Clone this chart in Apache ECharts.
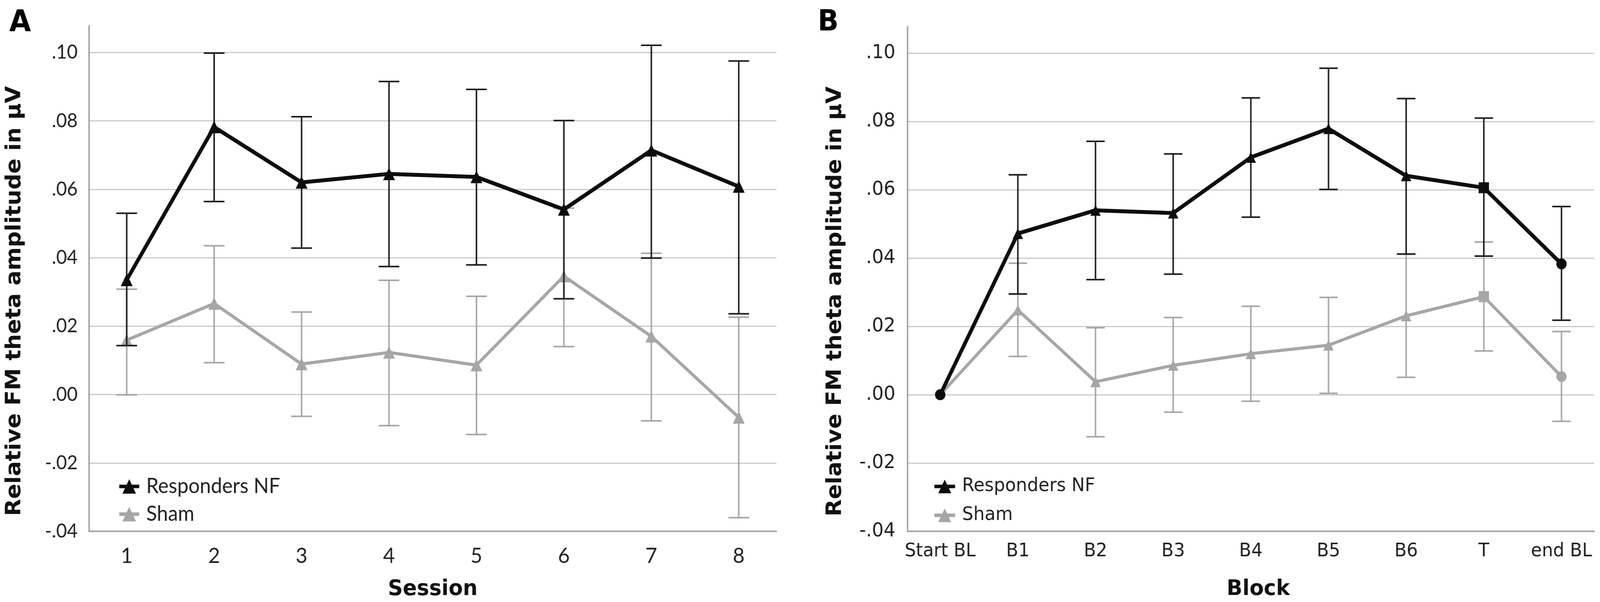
<!DOCTYPE html>
<html><head><meta charset="utf-8">
<script src="https://cdn.jsdelivr.net/npm/echarts@6/dist/echarts.min.js"></script>
<style>
html,body{margin:0;padding:0;background:#fff;overflow:hidden}
#c{width:4328px;height:1542px;transform-origin:0 0}
</style>
</head><body><div id="c"></div>
<script>
// ---------- Data ----------
const sessionCats = ['1', '2', '3', '4', '5', '6', '7', '8'];
const respA    = [0.0335, 0.0782, 0.0620, 0.0645, 0.0636, 0.0541, 0.0714, 0.0608];
const respAHi  = [0.0530, 0.0998, 0.0812, 0.0915, 0.0892, 0.0801, 0.1021, 0.0975];
const respALo  = [0.0143, 0.0564, 0.0428, 0.0374, 0.0379, 0.0280, 0.0399, 0.0236];
const shamA    = [0.0159, 0.0266, 0.0089, 0.0123, 0.0086, 0.0346, 0.0170, -0.0067];
const shamAHi  = [0.0308, 0.0435, 0.0241, 0.0334, 0.0287, 0.0545, 0.0413, 0.0226];
const shamALo  = [-0.0001, 0.0093, -0.0064, -0.0091, -0.0117, 0.0140, -0.0077, -0.0360];

const blockCats = ['Start BL', 'B1', 'B2', 'B3', 'B4', 'B5', 'B6', 'T', 'end BL'];
const blockSymbols = ['circle', 'triangle', 'triangle', 'triangle', 'triangle', 'triangle', 'triangle', 'rect', 'circle'];
const respB    = [0, 0.0472, 0.0540, 0.0532, 0.0695, 0.0779, 0.0641, 0.0606, 0.0383];
const respBHi  = [null, 0.0644, 0.0742, 0.0705, 0.0869, 0.0956, 0.0867, 0.0810, 0.0551];
const respBLo  = [null, 0.0295, 0.0337, 0.0353, 0.0520, 0.0601, 0.0412, 0.0406, 0.0218];
const shamB    = [0, 0.0248, 0.0038, 0.0086, 0.0120, 0.0145, 0.0231, 0.0287, 0.0053];
const shamBHi  = [null, 0.0385, 0.0196, 0.0226, 0.0259, 0.0285, 0.0412, 0.0447, 0.0185];
const shamBLo  = [null, 0.0112, -0.0123, -0.0051, -0.0019, 0.0004, 0.0051, 0.0128, -0.0078];

const yTicks = [-0.04, -0.02, 0.00, 0.02, 0.04, 0.06, 0.08, 0.10];
const seriesNames = ['Responders NF', 'Sham'];
const yTitle = 'Relative FM theta amplitude in µV';

// ---------- Fit the 4328px-wide figure into the browser window ----------
const W = 4328, H = 1542;
const el = document.getElementById('c');
const sx = Math.min(1, window.innerWidth / W), sy = Math.min(1, window.innerHeight / H);
el.style.transform = 'scale(' + sx + ',' + sy + ')';

// ---------- Helpers ----------
const BLACK = '#0d0d0d', GRAY = '#a6a6a6', GRID = '#cacaca', AXIS = '#a3a3a3', TEXT = '#222';
const fontA = 'Lato, "Noto Sans", sans-serif';
const fontB = '"DejaVu Sans", Verdana, sans-serif';

function pts(vals, syms) {
  return vals.map((v, i) => { const d = { value: [i, v] }; if (syms) d.symbol = syms[i]; return d; });
}
function errData(lo, hi) {
  const out = [];
  lo.forEach((l, i) => { if (l != null && hi[i] != null) out.push([i, l, hi[i]]); });
  return out;
}
function errSeries(ai, lo, hi, color, half, z) {
  return {
    type: 'custom', xAxisIndex: ai, yAxisIndex: ai, z: z, silent: true,
    data: errData(lo, hi), encode: { x: 0, y: [1, 2] },
    renderItem: function (params, api) {
      const x = api.value(0);
      const a = api.coord([x, api.value(1)]);
      const b = api.coord([x, api.value(2)]);
      const st = { stroke: color, lineWidth: 4 };
      return { type: 'group', children: [
        { type: 'line', shape: { x1: a[0], y1: a[1], x2: b[0], y2: b[1] }, style: st },
        { type: 'line', shape: { x1: a[0] - half, y1: a[1], x2: a[0] + half, y2: a[1] }, style: st },
        { type: 'line', shape: { x1: b[0] - half, y1: b[1], x2: b[0] + half, y2: b[1] }, style: st }
      ]};
    }
  };
}
function yFmt(v) {
  const isTick = yTicks.some(t => Math.abs(t - v) < 1e-9);
  if (!isTick) return '';
  return (Math.round(v * 100) / 100).toFixed(2).replace('0.', '.');
}
function yAxisDef(gi, font, size, margin) {
  const colors = yTicks.map(() => GRID); colors.push('rgba(0,0,0,0)');
  return {
    type: 'value', gridIndex: gi, min: yTicks[0], max: 0.1078, interval: 0.02,
    axisLine: { show: true, onZero: false, lineStyle: { color: AXIS, width: 4 } },
    axisTick: { show: false },
    splitLine: { show: true, lineStyle: { color: colors, width: 3 } },
    axisLabel: { formatter: yFmt, margin: margin, fontFamily: font, fontSize: size, color: TEXT }
  };
}
function xAxisDef(gi, cats, pad, font, size, margin, name, nameGap, namePad) {
  return {
    type: 'value', gridIndex: gi, min: -pad, max: cats.length - 1 + pad,
    axisLine: { show: true, onZero: false, lineStyle: { color: AXIS, width: 4 } },
    axisTick: { show: false },
    splitLine: { show: false },
    axisLabel: {
      customValues: cats.map((c, i) => i),
      formatter: v => cats[Math.round(v)] || '',
      margin: margin, fontFamily: font, fontSize: size, color: TEXT
    },
    name: name, nameLocation: 'middle', nameGap: nameGap,
    nameTextStyle: { fontFamily: '"DejaVu Sans", sans-serif', fontWeight: 'bold', fontSize: 56, color: '#111', padding: namePad }
  };
}
function lineSeries(ai, name, vals, syms, color, width, size, z) {
  return {
    type: 'line', name: name, xAxisIndex: ai, yAxisIndex: ai, z: z,
    data: pts(vals, syms), symbol: 'triangle', symbolSize: size,
    lineStyle: { color: color, width: width }, itemStyle: { color: color }
  };
}

const chart = echarts.init(el, null, { renderer: 'canvas', width: W, height: H });

const option = {
  animation: false,
  backgroundColor: '#fff',
  grid: [
    { left: 241, right: 2228, top: 66, bottom: 175 },
    { left: 2455, right: 16, top: 68, bottom: 175 }
  ],
  xAxis: [
    xAxisDef(0, sessionCats, 0.43, fontA, 55, 36, 'Session', 120, [0, 0, 0, 0]),
    xAxisDef(1, blockCats, 0.42, fontB, 48, 28, 'Block', 120, [0, 0, 0, 40])
  ],
  yAxis: [
    yAxisDef(0, fontA, 50, 31),
    yAxisDef(1, fontB, 50, 33)
  ],
  legend: [
    { data: seriesNames, orient: 'vertical', left: 313, top: 1214, itemWidth: 54, itemHeight: 46, itemGap: 17,
      selectedMode: false, lineStyle: { width: 9 },
      textStyle: { fontFamily: fontA, fontSize: 54, color: TEXT, padding: [0, 0, 0, 14] } },
    { data: seriesNames, orient: 'vertical', left: 2518, top: 1217, itemWidth: 56, itemHeight: 44, itemGap: 26,
      selectedMode: false, lineStyle: { width: 9 },
      textStyle: { fontFamily: fontB, fontSize: 48, color: TEXT, padding: [0, 0, 0, 14] } }
  ],
  graphic: [
    { type: 'text', left: 25, top: 22, style: { text: 'A', font: 'bold 76px "DejaVu Sans", sans-serif', fill: '#000' } },
    { type: 'text', left: 2212, top: 22, style: { text: 'B', font: 'bold 74px "DejaVu Sans", sans-serif', fill: '#000' } },
    { type: 'text', x: 40, y: 771, rotation: Math.PI / 2,
      style: { text: yTitle, font: 'bold 57px "DejaVu Sans", sans-serif', fill: '#111', align: 'center', verticalAlign: 'middle' } },
    { type: 'text', x: 2260, y: 772, rotation: Math.PI / 2,
      style: { text: yTitle, font: 'bold 57px "DejaVu Sans", sans-serif', fill: '#111', align: 'center', verticalAlign: 'middle' } }
  ],
  series: [
    errSeries(0, shamALo, shamAHi, GRAY, 28, 2),
    lineSeries(0, 'Sham', shamA, null, GRAY, 8, 32, 3),
    errSeries(0, respALo, respAHi, '#1a1a1a', 28, 4),
    lineSeries(0, 'Responders NF', respA, null, BLACK, 10, 32, 5),
    errSeries(1, shamBLo, shamBHi, GRAY, 25, 2),
    lineSeries(1, 'Sham', shamB, blockSymbols, GRAY, 8, 28, 3),
    errSeries(1, respBLo, respBHi, '#1a1a1a', 25, 4),
    lineSeries(1, 'Responders NF', respB, blockSymbols, BLACK, 10, 28, 5)
  ]
};
chart.setOption(option);
</script>
</body></html>
